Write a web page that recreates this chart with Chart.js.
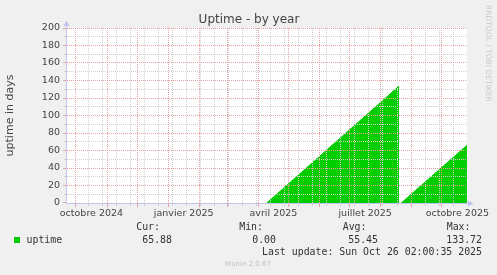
<!DOCTYPE html>
<html><head><meta charset="utf-8">
<style>html,body{margin:0;padding:0;background:#f0f0f0;overflow:hidden}#wrap{width:497px;height:275px;position:relative}</style>
<script src="https://cdn.jsdelivr.net/npm/chart.js@4/dist/chart.umd.min.js"></script>
</head><body><div id="wrap"><canvas id="c" width="497" height="275"></canvas></div>
<script>
// x = days since graph start (21 Sep 2024 02:00), y = uptime in days
const uptimeDays   = [200.3, 332.3, 333.3, 334.4, 400.0];
const uptimeValues = [0, 133.72, null, 0, 65.88];

// x axis: month starts (major grid), 2-week minor grid, quarter labels at mid-month
const monthStartDays = [9.9, 40.9, 70.9, 101.9, 132.9, 160.9, 191.9, 221.9, 252.9, 282.9, 313.9, 344.9, 374.9];
const minorGridDays = [22.2, 36.2, 50.2, 64.2, 78.2, 92.2, 106.2, 120.2, 134.2, 148.2, 162.2, 176.2, 190.2, 204.2,
                       218.2, 232.2, 246.2, 260.2, 274.2, 288.2, 302.2, 316.2, 330.2, 344.2, 358.2, 372.2, 386.2];
const quarterLabelDays = [25.4, 117.4, 206.9, 298.4, 390.4];
const quarterLabels = ['octobre 2024', 'janvier 2025', 'avril 2025', 'juillet 2025', 'octobre 2025'];

// y axis
const yMin = 0, yMax = 200, yGridStep = 10, yLabelStep = 20;

// legend
const seriesName = 'uptime';
const statNames = ['Cur:', 'Min:', 'Avg:', 'Max:'];
const statValues = ['65.88', '0.00', '55.45', '133.72'];
const lastUpdate = 'Last update: Sun Oct 26 02:00:35 2025';
const chartTitle = 'Uptime - by year';
const yTitle = 'uptime in days';

const GREEN = '#00cc00';
const MAJOR = '#e9a0a0';
const MINOR = '#cfcfcf';
const AXIS = '#c4c4f0';
const NONE = 'rgba(0,0,0,0)';

// dotted RRDtool-style grid drawn from the chart's own scales
function dottedV(ctx, x, top, bottom, color) {
  ctx.fillStyle = color;
  for (let y = top; y < bottom; y += 2) ctx.fillRect(x, y, 1, 1);
}
function dottedH(ctx, y, left, right, color) {
  ctx.fillStyle = color;
  for (let x = left; x < right; x += 2) ctx.fillRect(x, y, 1, 1);
}

const extras = {
  id: 'extras',
  beforeDraw(chart) {
    const {ctx, chartArea: a} = chart;
    ctx.save();
    ctx.fillStyle = '#f0f0f0';
    ctx.fillRect(0, 0, chart.width, chart.height);
    ctx.fillStyle = '#ffffff';
    ctx.fillRect(a.left, a.top, a.right - a.left, a.bottom - a.top);
    ctx.restore();
  },
  afterDatasetsDraw(chart) {
    const {ctx, chartArea: a} = chart;
    const xs = chart.scales.x, ys = chart.scales.y;
    const top = Math.round(a.top), bottom = Math.round(a.bottom);
    const left = Math.round(a.left), right = Math.round(a.right);
    ctx.save();
    // minor vertical
    minorGridDays.forEach(v => {
      const x = Math.floor(xs.getPixelForValue(v));
      dottedV(ctx, x, top, bottom, MINOR);
      ctx.fillRect(x, bottom + 1, 1, 2);
    });
    // minor horizontal
    for (let v = yMin + yGridStep; v <= yMax; v += yGridStep) {
      if (v % yLabelStep === 0) continue;
      const y = Math.floor(ys.getPixelForValue(v));
      dottedH(ctx, y, left + 1, right, MINOR);
      ctx.fillRect(left - 2, y, 2, 1);
    }
    // major vertical
    monthStartDays.forEach(v => {
      const x = Math.floor(xs.getPixelForValue(v));
      dottedV(ctx, x, top, bottom, MAJOR);
      ctx.fillRect(x, bottom + 1, 1, 3);
    });
    // major horizontal
    for (let v = yMin; v <= yMax; v += yLabelStep) {
      const y = Math.min(Math.floor(ys.getPixelForValue(v)), bottom - 1);
      if (v !== yMin) dottedH(ctx, y, left + 1, right, MAJOR);
      ctx.fillStyle = MAJOR;
      ctx.fillRect(left - 3, y, 3, 1);
    }
    ctx.restore();
  },
  afterDraw(chart) {
    const {ctx, chartArea: a} = chart;
    ctx.save();
    // title
    ctx.fillStyle = '#444';
    ctx.font = '12px "DejaVu Sans"';
    ctx.textAlign = 'center';
    ctx.textBaseline = 'middle';
    ctx.fillText(chartTitle, 249, 19.5);
    // axis arrows
    ctx.fillStyle = AXIS;
    ctx.strokeStyle = AXIS;
    ctx.lineWidth = 1;
    ctx.beginPath(); ctx.moveTo(a.left + 0.5, a.top); ctx.lineTo(a.left + 0.5, 24); ctx.stroke();
    ctx.beginPath(); ctx.moveTo(a.left + 0.5, 20.5); ctx.lineTo(a.left - 2.5, 26); ctx.lineTo(a.left + 3.5, 26); ctx.closePath(); ctx.fill();
    ctx.beginPath(); ctx.moveTo(a.right, a.bottom + 0.5); ctx.lineTo(469, a.bottom + 0.5); ctx.stroke();
    ctx.beginPath(); ctx.moveTo(473.5, a.bottom + 0.5); ctx.lineTo(468, a.bottom - 2.5); ctx.lineTo(468, a.bottom + 3.5); ctx.closePath(); ctx.fill();
    // rrdtool credit
    ctx.save();
    ctx.translate(488, 5);
    ctx.rotate(Math.PI / 2);
    ctx.fillStyle = '#cacaca';
    ctx.font = '7.5px "DejaVu Sans"';
    ctx.textAlign = 'left';
    ctx.textBaseline = 'middle';
    ctx.fillText('RRDTOOL / TOBI OETIKER', 0, 0);
    ctx.restore();
    // legend
    ctx.fillStyle = GREEN;
    ctx.fillRect(14, 237, 6, 6);
    ctx.fillStyle = '#333';
    ctx.font = '9.9px "DejaVu Sans Mono"';
    ctx.textBaseline = 'middle';
    ctx.textAlign = 'left';
    ctx.fillText(seriesName, 26.5, 240);
    const nameRight = [160, 263, 366.5, 470.5];
    const valRight = [172, 276, 378, 482];
    ctx.textAlign = 'right';
    for (let i = 0; i < statNames.length; i++) {
      ctx.fillText(statNames[i], nameRight[i], 227.5);
      ctx.fillText(statValues[i], valRight[i], 240);
    }
    ctx.fillText(lastUpdate, 482, 252);
    ctx.fillStyle = '#c0c0c0';
    ctx.font = '7px "DejaVu Sans"';
    ctx.textAlign = 'center';
    ctx.fillText('Munin 2.0.67', 248, 264.5);
    ctx.restore();
  }
};

const xTickList = quarterLabelDays.map((v, i) => ({value: v, text: quarterLabels[i]}));

new Chart(document.getElementById('c'), {
  type: 'line',
  data: {
    datasets: [{
      label: seriesName,
      data: uptimeDays.map((d, i) => ({x: d, y: uptimeValues[i]})),
      borderColor: GREEN,
      backgroundColor: GREEN,
      borderWidth: 1,
      pointRadius: 0,
      fill: 'origin',
      tension: 0,
      spanGaps: false
    }]
  },
  plugins: [extras],
  options: {
    responsive: false,
    animation: false,
    events: [],
    layout: {padding: {left: 0, top: 28, right: 30, bottom: 0}},
    plugins: {legend: {display: false}, tooltip: {enabled: false}, title: {display: false}},
    scales: {
      x: {
        type: 'linear',
        min: 0, max: 400,
        afterFit(s) { s.height = 72; },
        afterBuildTicks(s) { s.ticks = xTickList.map(t => Object.assign({}, t)); },
        grid: {color: NONE, tickColor: NONE, tickLength: 3, lineWidth: 1},
        border: {display: true, color: AXIS, width: 1, z: 2},
        ticks: {
          autoSkip: false, maxRotation: 0, minRotation: 0, padding: 2,
          color: '#444',
          font: {family: 'DejaVu Sans', size: 9.5},
          callback: function (v, i, ticks) { return ticks[i] ? ticks[i].text : ''; }
        }
      },
      y: {
        type: 'linear',
        min: yMin, max: yMax,
        afterFit(s) { s.width = 66; },
        grid: {color: NONE, tickColor: NONE, tickLength: 3, lineWidth: 1},
        border: {display: true, color: AXIS, width: 1, z: 2},
        ticks: {
          stepSize: yGridStep, autoSkip: false, padding: 3,
          color: '#444',
          font: {family: 'DejaVu Sans', size: 9.5},
          callback: v => (v % yLabelStep === 0 ? String(v) : '')
        },
        title: {
          display: true, text: yTitle, color: '#444',
          font: {family: 'DejaVu Sans', size: 11},
          padding: {top: 4, bottom: 0}
        }
      }
    }
  }
});
</script></body></html>
